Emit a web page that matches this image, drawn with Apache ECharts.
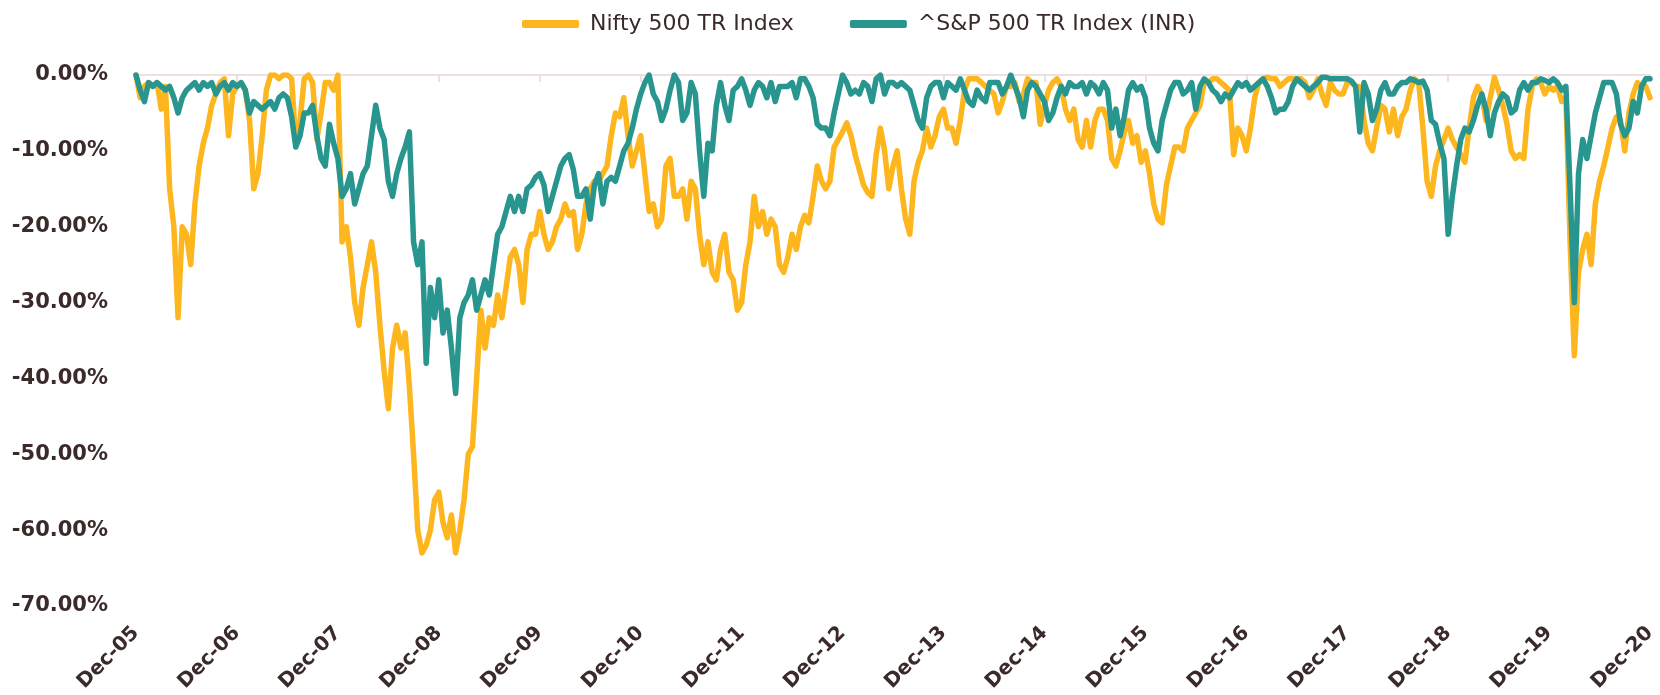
<!DOCTYPE html>
<html>
<head>
<meta charset="utf-8">
<title>Drawdown: Nifty 500 TR vs S&P 500 TR (INR)</title>
<script src="https://cdn.jsdelivr.net/npm/echarts@6/dist/echarts.min.js"></script>
<style>
  html, body { margin: 0; padding: 0; background: #fff; }
  #chart { width: 1660px; height: 695px; }
</style>
</head>
<body>
<div id="chart"></div>
<script>
// x axis: one label per December, Dec-05 .. Dec-20
const tickLabels = ['Dec-05', 'Dec-06', 'Dec-07', 'Dec-08', 'Dec-09', 'Dec-10', 'Dec-11', 'Dec-12',
  'Dec-13', 'Dec-14', 'Dec-15', 'Dec-16', 'Dec-17', 'Dec-18', 'Dec-19', 'Dec-20']
// values are read every half month starting Dec-05
const perYear = 24
const seriesNames = ['Nifty 500 TR Index', '^S&P 500 TR Index (INR)']

// drawdown in %
const nifty = [
  0, -3, -1.5, -1, -1.5, -1, -4.5, -1.5, -15, -20,
  -32, -20, -21, -25, -17, -12, -9, -7, -4, -2.5,
  -1, -0.5, -8, -2.5, -1.5, -1, -2, -6, -15, -13,
  -8, -2, 0, 0, -0.5, 0, 0, -0.5, -9, -6,
  -0.5, 0, -1, -8.5, -5, -1, -1, -2, 0, -22,
  -20, -24, -30, -33, -28, -25, -22, -26, -33, -39,
  -44, -36, -33, -36, -34, -41, -50, -60, -63, -62,
  -60, -56, -55, -59, -61, -58, -63, -60, -56, -50,
  -49, -40, -31, -36, -32, -33, -29, -32, -28, -24,
  -23, -25, -30, -23, -21, -21, -18, -21, -23, -22,
  -20, -19, -17, -18.5, -18, -23, -21, -17, -15, -14,
  -14, -13, -12, -8, -5, -5.5, -3, -8, -12, -10,
  -8, -13, -18, -17, -20, -19, -12, -11, -16, -16,
  -15, -19, -14, -15, -21, -25, -22, -26, -27, -23,
  -21, -26, -27, -31, -30, -25, -22, -16, -20, -18,
  -21, -19, -20, -25, -26, -24, -21, -23, -20, -18.5,
  -19.5, -16, -12, -14, -15, -14, -9.5, -8.5, -7.5, -6.3,
  -8, -10.5, -12.5, -14.5, -15.5, -16, -10.5, -7, -10, -15,
  -12, -10, -15, -19, -21, -14, -11.5, -10, -7, -9.5,
  -8, -5.5, -4.5, -7, -7, -9, -6, -2, -0.5, -0.5,
  -0.5, -1, -1.5, -2, -2.5, -5, -3.5, -1.5, -1.5, -1,
  -3.5, -2.5, -0.5, -1, -1, -6.5, -4, -2, -1, -0.5,
  -1.5, -4.5, -6, -4.5, -8.5, -9.5, -6, -9.5, -6, -4.5,
  -4.5, -6, -11, -12, -10, -7.5, -6, -9, -8, -11.5,
  -10, -13, -17, -19, -19.5, -14.5, -12, -9.5, -9.5, -10,
  -7, -6, -5, -4, -1, -1, -0.5, -0.5, -1, -1.5,
  -2, -10.5, -7, -8, -10, -7, -3, -1, -0.5, -0.3,
  -0.5, -0.5, -1.5, -1, -0.5, -0.5, -0.5, -0.5, -1, -3,
  -2, -0.5, -2.5, -4, -1, -2, -2.5, -2.5, -1, -1,
  -1.5, -1.5, -6, -9, -10, -7, -4, -4.5, -7.5, -4.5,
  -8, -5.5, -4.5, -2, -0.5, -1, -7, -14, -16, -12,
  -10, -8.5, -7, -8.5, -9.5, -10.5, -11.5, -7, -3, -1.5,
  -2.5, -6, -3, -0.3, -2, -4, -6.5, -10, -11, -10.5,
  -11, -4.5, -1.5, -0.5, -1, -2.5, -1.5, -2, -1.5, -3.5,
  -3, -22, -37, -26, -23, -21, -25, -17, -14, -12,
  -9.5, -7, -5.5, -6, -10, -5, -2.5, -1, -1.5, -1.5,
  -3
]

const spx = [
  0, -2, -3.5, -1, -1.5, -1, -1.5, -2, -1.5, -3,
  -5, -3, -2, -1.5, -1, -2, -1, -1.5, -1, -2.5,
  -1.5, -1, -2, -1, -1.5, -1, -2, -5, -3.5, -4,
  -4.5, -4, -3.5, -4.5, -3, -2.5, -3, -5.5, -9.5, -8,
  -5, -5, -4, -8, -11, -12, -6.5, -9, -11, -16,
  -15, -13, -17, -15, -13, -12, -8, -4, -7, -8.5,
  -14, -16, -13, -11, -9.5, -7.5, -22, -25, -22, -38,
  -28, -32, -27, -34, -31, -36, -42, -32, -30, -29,
  -27, -31, -29, -27, -29, -25, -21, -20, -18, -16,
  -18, -16, -18, -15, -14.5, -13.5, -13, -14.5, -18, -16,
  -14, -12, -11, -10.5, -12.5, -16, -16, -15, -19, -14.5,
  -13, -17, -14, -13.5, -14, -12, -10, -9, -7, -4.5,
  -2.5, -1, 0, -2.5, -3.5, -6, -4.5, -2, 0, -1,
  -6, -5, -1, -2.5, -10, -16, -9, -10, -4, -1,
  -4, -6, -2, -1.5, -0.5, -2, -4, -2, -1, -1.5,
  -3, -1, -3.5, -1.5, -1.5, -1.5, -1, -3, -0.5, -0.5,
  -1.5, -3, -6.5, -7, -7, -8, -5, -2.5, 0, -1,
  -2.5, -2, -2.5, -1, -1.5, -3.5, -0.5, 0, -2.5, -1,
  -1, -1.5, -1, -1.5, -2, -4, -6, -7, -3, -1.5,
  -1, -1, -3, -1, -1.5, -2, -0.5, -2, -3.5, -4,
  -2, -3, -3.5, -1, -1, -1, -2.5, -1.5, 0, -1.5,
  -3, -5.5, -2, -1, -1.5, -2.5, -3.5, -6, -5, -3,
  -1.5, -2.5, -1, -1.5, -1.5, -1, -2.5, -1, -1.5, -2.5,
  -1, -2, -7, -4.5, -8, -5.5, -2, -1, -2, -1.5,
  -3, -7, -9, -10, -6, -4, -2, -1, -1, -2.5,
  -2, -1, -4.5, -1.5, -0.5, -1, -2, -2.5, -3.5, -2.5,
  -3, -2, -1, -1.5, -1, -2, -1.5, -1, -0.5, -1.5,
  -3, -5, -4.5, -4.5, -3.5, -1.5, -0.5, -1, -1.5, -2,
  -1.5, -1, -0.3, -0.3, -0.5, -0.5, -0.5, -0.5, -0.5, -0.8,
  -1.5, -7.5, -1, -2.5, -6, -4.5, -2, -1, -2.5, -2.5,
  -1.5, -1, -1, -0.5, -0.7, -1, -0.8, -2, -6, -6.5,
  -9, -11, -21, -16, -12, -8.5, -7, -7.5, -6, -4,
  -2.5, -4.5, -8, -5, -3.5, -2.5, -3, -5, -4.5, -2,
  -1, -2, -1, -1, -0.5, -0.7, -1, -0.5, -1, -2,
  -1.5, -15, -30, -13, -8.5, -11, -8, -5, -3, -1,
  -1, -1, -2.5, -6.5, -8, -7, -3.5, -5, -1.5, -0.5,
  -0.5
]

const textColor = '#3b2a2a'
const colors = ['#FDB61E', '#28958F']

const toPoints = arr => arr.map((v, i) => [i / perYear, v])

const myChart = echarts.init(document.getElementById('chart'))
const option = {
  animation: false,
  color: colors,
  legend: {
    top: 8,
    left: 517,
    icon: 'roundRect',
    itemWidth: 57,
    itemHeight: 8,
    itemGap: 56,
    textStyle: {
      fontFamily: 'DejaVu Sans',
      fontSize: 22,
      color: textColor,
      padding: [0, 0, 0, 6],
    },
    data: seriesNames,
  },
  grid: {
    left: 136,
    right: 10,
    top: 75,
    bottom: 89,
  },
  xAxis: [
    {
      type: 'value',
      position: 'bottom',
      min: 0,
      max: tickLabels.length - 1,
      interval: 1,
      axisLine: { show: false },
      axisTick: { show: false },
      splitLine: { show: false },
      axisLabel: {
        rotate: 45,
        margin: 24,
        fontFamily: 'DejaVu Sans',
        fontWeight: 'bold',
        fontSize: 20,
        color: textColor,
        formatter: v => tickLabels[v] || '',
      },
    },
    {
      type: 'value',
      position: 'top',
      min: 0,
      max: tickLabels.length - 1,
      interval: 1,
      axisLine: { show: true, lineStyle: { color: '#e8d6d6', width: 1.5 } },
      axisTick: { show: true, inside: true, length: 7, lineStyle: { color: '#e8d6d6', width: 1.5 } },
      axisLabel: { show: false },
      splitLine: { show: false },
    },
  ],
  yAxis: {
    type: 'value',
    min: -70,
    max: 0,
    interval: 10,
    axisLine: { show: false },
    axisTick: { show: false },
    splitLine: { show: false },
    axisLabel: {
      margin: 28,
      fontFamily: 'DejaVu Sans',
      fontWeight: 'bold',
      fontSize: 21,
      color: textColor,
      formatter: v => v.toFixed(2) + '%',
    },
  },
  series: [
    {
      name: seriesNames[0],
      type: 'line',
      showSymbol: false,
      data: toPoints(nifty),
      lineStyle: { width: 5.5, color: colors[0], join: 'round', cap: 'round' },
      z: 2,
    },
    {
      name: seriesNames[1],
      type: 'line',
      showSymbol: false,
      data: toPoints(spx),
      lineStyle: { width: 5.5, color: colors[1], join: 'round', cap: 'round' },
      z: 3,
    },
  ],
}
myChart.setOption(option)
</script>
</body>
</html>
